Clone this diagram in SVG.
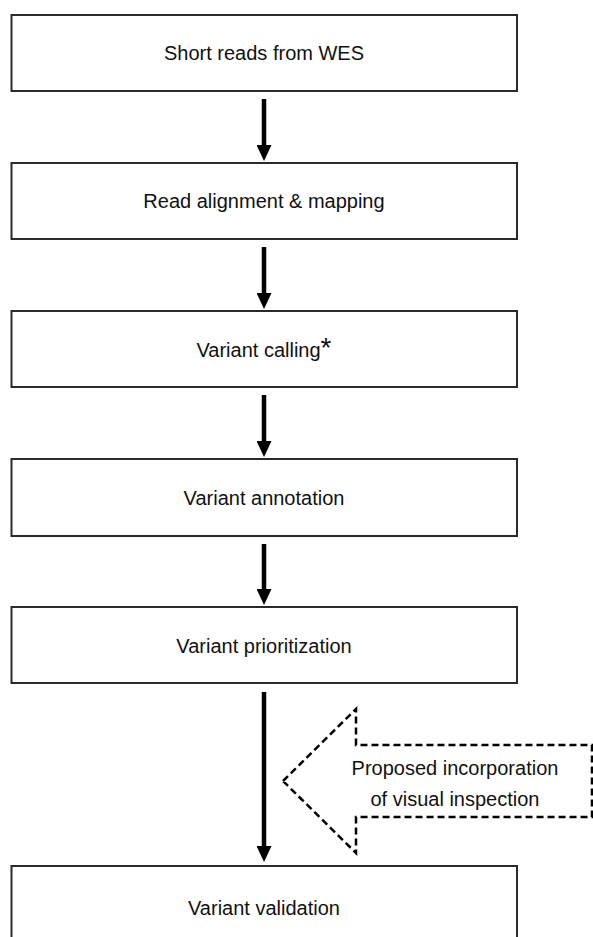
<svg xmlns="http://www.w3.org/2000/svg" width="593" height="937" viewBox="0 0 593 937">
  <style>
    .box { fill: #ffffff; stroke: #2a2a2a; stroke-width: 2; }
    .label { font-family: "Liberation Sans", Arial, sans-serif; font-size: 20px; fill: #111111; text-anchor: middle; }
    .flow { stroke: #000000; stroke-width: 4.5; fill: none; }
    .callout { fill: #ffffff; stroke: #000000; stroke-width: 2.5; stroke-dasharray: 7 4; }
  </style>
  <defs>
    <marker id="head" viewBox="0 0 16 15" refX="0" refY="7.5" markerWidth="16" markerHeight="15" markerUnits="userSpaceOnUse" orient="auto-start-reverse">
      <path d="M0,0 L16,7.5 L0,15 Z" fill="#000000"/>
    </marker>
  </defs>

  <rect width="593" height="937" fill="#ffffff"/>

  <!-- pipeline steps -->
  <g id="step-reads">
    <rect class="box" x="11.5" y="15" width="505.5" height="76"/>
    <text class="label" x="264" y="60">Short reads from WES</text>
  </g>
  <g id="step-alignment">
    <rect class="box" x="11.5" y="163" width="505.5" height="76"/>
    <text class="label" x="264" y="208">Read alignment &amp; mapping</text>
  </g>
  <g id="step-calling">
    <rect class="box" x="11.5" y="311" width="505.5" height="76"/>
    <text class="label" x="264" y="357">Variant calling<tspan font-size="28">*</tspan></text>
  </g>
  <g id="step-annotation">
    <rect class="box" x="11.5" y="459" width="505.5" height="77"/>
    <text class="label" x="264" y="505">Variant annotation</text>
  </g>
  <g id="step-prioritization">
    <rect class="box" x="11.5" y="607" width="505.5" height="76"/>
    <text class="label" x="264" y="653">Variant prioritization</text>
  </g>
  <g id="step-validation">
    <rect class="box" x="11.5" y="866" width="505.5" height="80"/>
    <text class="label" x="264" y="915">Variant validation</text>
  </g>

  <!-- proposed visual inspection step (dashed block arrow) -->
  <g id="visual-inspection">
    <path class="callout" d="M283,781 L356,709 L356,745 L592,745 L592,817 L356,817 L356,853 Z"/>
    <text class="label" x="455" y="775">Proposed incorporation</text>
    <text class="label" x="455" y="806">of visual inspection</text>
  </g>

  <!-- connectors -->
  <g id="connectors">
    <line class="flow" x1="264" y1="99" x2="264" y2="145" marker-end="url(#head)"/>
    <line class="flow" x1="264" y1="247" x2="264" y2="293" marker-end="url(#head)"/>
    <line class="flow" x1="264" y1="395" x2="264" y2="441" marker-end="url(#head)"/>
    <line class="flow" x1="264" y1="544" x2="264" y2="589" marker-end="url(#head)"/>
    <line class="flow" x1="264" y1="692" x2="264" y2="846" marker-end="url(#head)"/>
  </g>
</svg>
